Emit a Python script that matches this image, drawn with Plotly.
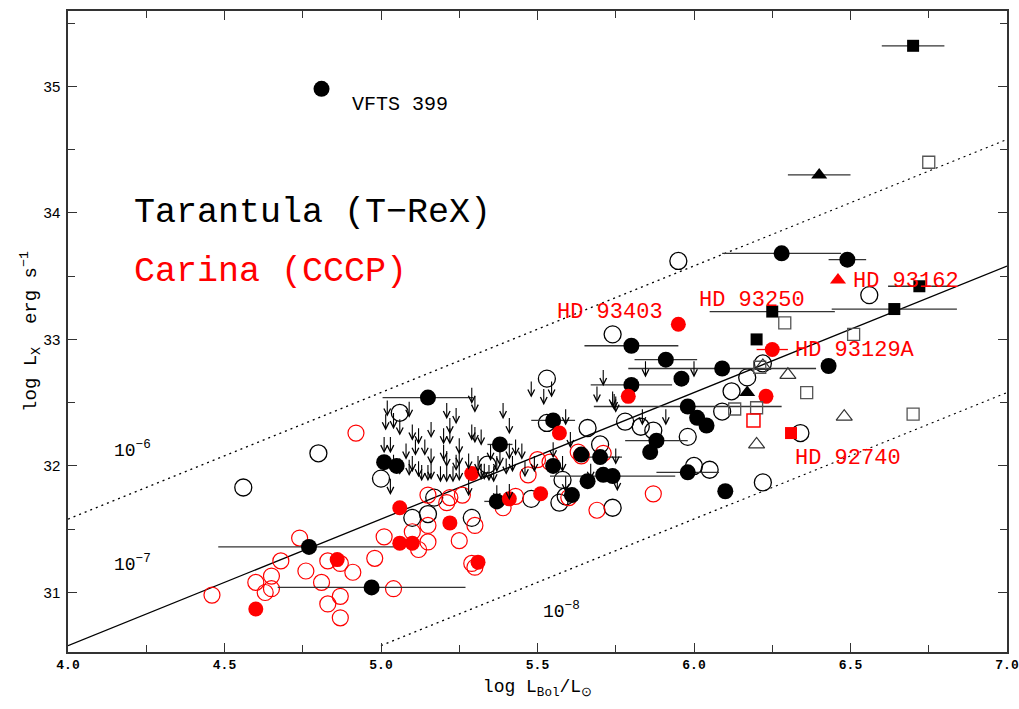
import plotly.graph_objects as go

# ---------------- data (log Lbol/Lsun, log Lx) ----------------
# Tarantula (T-ReX) detections: black filled circles
trex_det_x = [4.81, 6.28, 6.49, 5.80, 5.91, 6.09, 6.43, 5.96, 5.80, 5.98, 6.01, 6.04, 5.88, 5.86,
              5.98, 6.10, 5.55, 5.64, 5.70, 5.55, 5.66, 5.71, 5.74, 5.61, 5.15, 5.38, 5.01, 5.05,
              5.37, 4.77, 4.97]
trex_det_y = [34.98, 33.68, 33.63, 32.95, 32.84, 32.77, 32.79, 32.69, 32.64, 32.47, 32.38, 32.32,
              32.20, 32.11, 31.95, 31.80, 32.36, 32.09, 32.07, 32.00, 31.88, 31.93, 31.92, 31.77,
              32.54, 32.17, 32.03, 32.00, 31.72, 31.36, 31.04]
trex_det_xerr = [0, 0.19, 0.06, 0.15, 0.10, 0.30, 0, 0, 0.13, 0.30, 0, 0, 0.10, 0,
                 0.10, 0, 0.07, 0, 0.07, 0, 0, 0, 0.20, 0, 0.145, 0.04, 0, 0,
                 0.04, 0.29, 0.30]

# Tarantula: black open circles
trex_open_x = [4.56, 4.80, 5.06, 5.00, 5.95, 5.74, 6.56, 5.53, 6.22, 6.17, 6.12, 6.09, 5.78, 5.83,
               5.87, 5.98, 5.66, 5.70, 6.00, 6.05, 6.22, 6.34, 5.74, 5.53, 5.57, 5.58, 5.34, 5.17,
               5.15, 5.10, 5.29, 5.48, 5.59]
trex_open_y = [31.83, 32.10, 32.42, 31.90, 33.62, 33.04, 33.35, 32.69, 32.81, 32.70, 32.59, 32.43,
               32.35, 32.31, 32.28, 32.23, 32.30, 32.17, 32.00, 31.97, 31.87, 32.26, 31.67, 32.34,
               31.71, 31.89, 32.01, 31.75, 31.62, 31.59, 31.59, 31.74, 31.76]

# Tarantula upper limits (arrows)
trex_ul_x = [5.02, 5.09, 5.21, 5.24, 5.29, 5.30, 5.39, 5.48, 5.015, 5.04, 5.06, 5.10, 5.12, 5.16,
             5.20, 5.22, 5.22, 5.25, 5.29, 5.30, 5.32, 5.41, 5.41, 5.43, 5.45, 5.01, 5.03, 5.08,
             5.11, 5.14, 5.16, 5.20, 5.21, 5.24, 5.25, 5.28, 5.31, 5.35, 5.37, 5.38, 5.40, 5.42,
             5.46, 5.04, 5.06, 5.09, 5.10, 5.12, 5.13, 5.15, 5.16, 5.19, 5.21, 5.23, 5.25, 5.32,
             5.33, 5.345, 5.36, 5.03, 5.28, 5.37, 5.41,
             5.52, 5.545, 5.59, 5.605, 5.55, 5.49, 5.58, 5.67, 5.75, 5.755, 5.59, 5.71, 5.69,
             5.74, 5.745, 5.75, 5.835, 5.91, 5.845, 6.00]
trex_ul_y = [32.53, 32.52, 32.51, 32.47, 32.63, 32.56, 32.51, 32.68, 32.42, 32.43, 32.38, 32.34,
             32.31, 32.36, 32.31, 32.39, 32.31, 32.23, 32.34, 32.32, 32.30, 32.39, 32.19, 32.22,
             32.19, 32.24, 32.24, 32.19, 32.22, 32.22, 32.15, 32.18, 32.13, 32.10, 32.14, 32.11,
             32.09, 32.18, 32.09, 32.14, 32.07, 32.09, 32.05, 32.10, 32.07, 32.06, 32.09, 32.05,
             32.02, 32.02, 32.03, 32.01, 32.01, 32.01, 32.02, 32.03, 32.03, 32.02, 32.01, 31.91,
             31.90, 31.86, 31.87,
             32.62, 32.68, 32.46, 32.28, 32.20, 32.09, 32.09, 32.03, 32.15, 31.94, 31.93, 32.77,
             32.64, 32.60, 32.58, 32.56, 32.46, 32.46, 32.84, 32.84]

# Carina (CCCP) detections: red filled circles
cccp_det_x = [4.60, 4.86, 5.06, 5.06, 5.10, 5.22, 5.31, 5.29, 5.41, 5.51, 5.57, 5.79, 5.95, 6.25, 6.23]
cccp_det_y = [30.87, 31.26, 31.67, 31.39, 31.39, 31.55, 31.24, 31.94, 31.74, 31.78, 32.26, 32.55,
              33.12, 32.92, 32.55]
cccp_det_xerr = [0, 0, 0, 0, 0, 0, 0, 0, 0, 0, 0, 0, 0, 0.05, 0]

# Carina: red open circles
cccp_open_x = [4.46, 4.74, 4.68, 4.60, 4.65, 4.65, 4.63, 4.76, 4.81, 4.83, 4.87, 4.91, 4.87, 4.83,
               4.87, 4.98, 5.01, 4.92, 5.04, 5.10, 5.12, 5.15, 5.15, 5.25, 5.30, 5.29, 5.30, 5.21,
               5.39, 5.15, 5.22, 5.26, 5.43, 5.47, 5.50, 5.54, 5.60, 5.63, 5.64, 5.71, 5.69, 5.87]
cccp_open_y = [30.98, 31.43, 31.25, 31.08, 31.13, 31.03, 31.00, 31.17, 31.08, 31.25, 31.23, 31.16,
               30.97, 30.91, 30.80, 31.27, 31.44, 32.26, 31.03, 31.48, 31.34, 31.53, 31.40, 31.41,
               31.53, 31.23, 31.20, 31.71, 31.67, 31.77, 31.75, 31.77, 31.76, 31.93, 32.05, 32.03,
               31.75, 32.11, 32.08, 32.10, 31.65, 31.78]

# squares
sq_fill_x = [6.70, 6.72, 6.64, 6.25, 6.20]
sq_fill_y = [35.32, 33.42, 33.24, 33.22, 33.00]
sq_fill_xerr = [0.10, 0.10, 0.20, 0.20, 0]
sq_open_x = [6.75, 6.29, 6.51, 6.36, 6.13, 6.20, 6.70, 6.21]
sq_open_y = [34.40, 33.13, 33.04, 32.58, 32.45, 32.46, 32.41, 32.78]
sq_red_open_x = [6.19]
sq_red_open_y = [32.36]
sq_red_fill_x = [6.31]
sq_red_fill_y = [32.26]

# triangles
tri_fill_x = [6.40, 6.17]
tri_fill_y = [34.30, 32.58]
tri_fill_xerr = [0.10, 0]
tri_red_x = [6.46]
tri_red_y = [33.47]
tri_open_x = [6.30, 6.48, 6.20, 6.22]
tri_open_y = [32.72, 32.39, 32.17, 32.79]

# Lx/Lbol reference relations
LOG_LSUN = 33.58
ratio_exp = [-6, -7, -8]
ratio_x0 = [4.0, 4.0, 5.0]
ratio_x1 = [7.0, 7.0, 7.0]
ratio_dash = ["2px,4px", "solid", "2px,4px"]
ratio_label = ["10<sup>−6</sup>", "10<sup>−7</sup>", "10<sup>−8</sup>"]
ratio_label_x = [4.14, 4.14, 5.51]
ratio_label_y = [32.13, 31.23, 30.86]

# star names
names = ["VFTS 399", "HD 93403", "HD 93250", "HD 93162", "HD 93129A", "HD 92740"]
names_x = [4.90, 5.555, 6.01, 6.50, 6.315, 6.315]
names_y = [34.86, 33.21, 33.31, 33.46, 32.91, 32.06]
names_color = ["black", "red", "red", "red", "red", "red"]
names_size = [20, 22, 22, 22, 22, 22]

ARROW_LEN = 0.14

fig = go.Figure()

for e, x0, x1, d in zip(ratio_exp, ratio_x0, ratio_x1, ratio_dash):
    xs = [x0, x1]
    ys = [x + LOG_LSUN + e for x in xs]
    fig.add_trace(go.Scatter(x=xs, y=ys, mode="lines",
                             line=dict(color="black", width=1.3, dash=d), hoverinfo="skip"))

ebar = dict(type="data", width=0, thickness=1.3, color="#333333")

fig.add_trace(go.Scatter(x=trex_open_x, y=trex_open_y, mode="markers",
                         marker=dict(symbol="circle-open", size=17, color="black",
                                     line=dict(width=1.3, color="black"))))
fig.add_trace(go.Scatter(x=cccp_open_x, y=cccp_open_y, mode="markers",
                         marker=dict(symbol="circle-open", size=16, color="red",
                                     line=dict(width=1.2, color="red"))))
fig.add_trace(go.Scatter(x=trex_det_x, y=trex_det_y, mode="markers",
                         error_x=dict(array=trex_det_xerr, **ebar),
                         marker=dict(symbol="circle", size=16, color="black")))
fig.add_trace(go.Scatter(x=cccp_det_x, y=cccp_det_y, mode="markers",
                         error_x=dict(array=cccp_det_xerr, type="data", width=0, thickness=1.3, color="red"),
                         marker=dict(symbol="circle", size=15, color="red")))
fig.add_trace(go.Scatter(x=sq_open_x, y=sq_open_y, mode="markers",
                         marker=dict(symbol="square-open", size=12, color="#555555",
                                     line=dict(width=1.3, color="#555555"))))
fig.add_trace(go.Scatter(x=sq_fill_x, y=sq_fill_y, mode="markers",
                         error_x=dict(array=sq_fill_xerr, **ebar),
                         marker=dict(symbol="square", size=12, color="black")))
fig.add_trace(go.Scatter(x=sq_red_open_x, y=sq_red_open_y, mode="markers",
                         marker=dict(symbol="square-open", size=13, color="red",
                                     line=dict(width=1.5, color="red"))))
fig.add_trace(go.Scatter(x=sq_red_fill_x, y=sq_red_fill_y, mode="markers",
                         marker=dict(symbol="square", size=12, color="red")))
fig.add_trace(go.Scatter(x=tri_open_x, y=tri_open_y, mode="markers",
                         marker=dict(symbol="triangle-up-open", size=14, color="#333333",
                                     line=dict(width=1.2, color="#333333"))))
fig.add_trace(go.Scatter(x=tri_fill_x, y=tri_fill_y, mode="markers",
                         error_x=dict(array=tri_fill_xerr, **ebar),
                         marker=dict(symbol="triangle-up", size=14, color="black")))
fig.add_trace(go.Scatter(x=tri_red_x, y=tri_red_y, mode="markers",
                         marker=dict(symbol="triangle-up", size=14, color="red")))

ann = []
for x, y in zip(trex_ul_x, trex_ul_y):
    ann.append(dict(x=x, y=y - ARROW_LEN, ax=x, ay=y, xref="x", yref="y", axref="x", ayref="y",
                    text="", showarrow=True, arrowhead=5, arrowsize=1.2, arrowwidth=1.1,
                    arrowcolor="black"))
for t, x, y in zip(ratio_label, ratio_label_x, ratio_label_y):
    ann.append(dict(x=x, y=y, xref="x", yref="y", text=t, showarrow=False, xanchor="left",
                    font=dict(family="Liberation Mono", size=18, color="black")))
for t, x, y, c, s in zip(names, names_x, names_y, names_color, names_size):
    ann.append(dict(x=x, y=y, xref="x", yref="y", text=t, showarrow=False, xanchor="left",
                    font=dict(family="Liberation Mono", size=s, color=c)))
ann.append(dict(x=4.205, y=34.0, xref="x", yref="y", text="Tarantula (T−ReX)", showarrow=False,
                xanchor="left", font=dict(family="Liberation Mono", size=35, color="black")))
ann.append(dict(x=4.205, y=33.53, xref="x", yref="y", text="Carina (CCCP)", showarrow=False,
                xanchor="left", font=dict(family="Liberation Mono", size=35, color="red")))

axis_common = dict(showgrid=False, zeroline=False, showline=True, linecolor="#333333",
                   linewidth=1.5, mirror="ticks", ticks="inside", ticklen=9, tickwidth=1.2,
                   tickcolor="#333333", automargin=False, ticklabeloverflow="allow")

fig.update_layout(
    width=1019, height=709,
    margin=dict(l=68, r=12, t=11, b=57),
    paper_bgcolor="white", plot_bgcolor="white",
    showlegend=False,
    annotations=ann,
    xaxis=dict(range=[4.0, 7.0], dtick=0.5, tick0=4.0, tickformat=".1f",
               minor=dict(dtick=0.25, ticks="inside", ticklen=7, tickcolor="#333333"),
               tickfont=dict(family="Liberation Mono", size=13, color="black", weight="bold"),
               title=dict(text="log L<sub>Bol</sub>/L<sub>⊙</sub>", standoff=7,
                          font=dict(family="Liberation Mono", size=18, color="black")),
               **axis_common),
    yaxis=dict(range=[30.53, 35.595], dtick=1, tick0=31, ticklabelstandoff=3,
               minor=dict(dtick=0.5, ticks="inside", ticklen=7, tickcolor="#333333"),
               tickfont=dict(family="Liberation Sans", size=15, color="black"),
               title=dict(text="log L<sub>X</sub>  erg s<sup>−1</sup>", standoff=1,
                          font=dict(family="Liberation Mono", size=19, color="black")),
               **axis_common),
)

# remove the default page margin so the 1019x709 figure fills the window exactly
fig.write_html("out.html", config={"displayModeBar": False},
               post_script="document.body.style.margin='0';document.body.style.overflow='hidden';")
